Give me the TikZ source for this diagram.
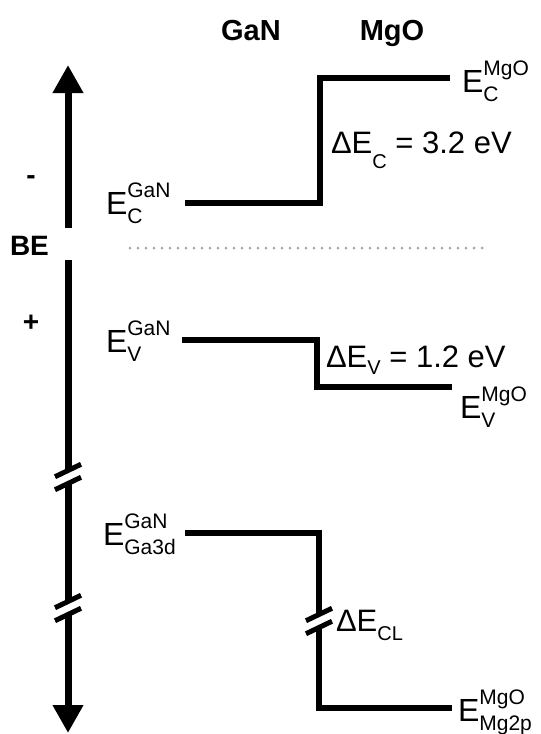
\documentclass[tikz,border=0pt]{standalone}
\usepackage{fontspec}
\setmainfont{Liberation Sans}
\usetikzlibrary{arrows.meta}
\newcommand{\lv}[2]{\fontsize{32}{32}\selectfont E\fontsize{21}{21}\selectfont\rlap{\raisebox{17pt}{#1}}\raisebox{-9pt}{#2}}
\newcommand{\dlt}[3]{\fontsize{31}{31}\selectfont ΔE\fontsize{20}{20}\selectfont\raisebox{-#2pt}{#1}\fontsize{31}{31}\selectfont#3}
\begin{document}
\begin{tikzpicture}[x=1pt,y=-1pt,
  lvl/.style={line width=6pt,line cap=butt,line join=miter},
  axisline/.style={line width=7pt},
  brk/.style={line width=5pt},
  lab/.style={anchor=base west,inner sep=0pt,outer sep=0pt},
  hdr/.style={anchor=base,inner sep=0pt,outer sep=0pt,font=\fontsize{29}{29}\selectfont\bfseries},
  sgn/.style={anchor=base,inner sep=0pt,outer sep=0pt,font=\fontsize{28}{28}\selectfont\bfseries},
  tip/.style={-{Triangle[length=28pt,width=29pt]}},
  brkpic/.pic={
    \fill[white] (-13,-0.26) -- (13,-12.74) -- (13,0.26) -- (-13,12.74) -- cycle;
    \draw[brk] (-13,-0.26) -- (13,-12.74);
    \draw[brk] (-13,12.74) -- (13,0.26);
  }]
\useasboundingbox (0,0) rectangle (541,734);
% headers
\node[hdr] (hgan) at (251,40) {GaN};
\node[hdr] (hmgo) at (392,40) {MgO};
% axis
\coordinate (atop) at (68,65);
\coordinate (aue) at (68,228);
\coordinate (als) at (68,260);
\coordinate (abot) at (68,733);
\draw[axisline,tip] (aue) -- (atop);
\draw[axisline,tip] (als) -- (abot);
\pic at (68,477) {brkpic};
\pic at (68,608) {brkpic};
\node[sgn,anchor=base west] (be) at (10,255) {BE};
\node[sgn] (minus) at (31,184) {-};
\node[sgn] (plus) at (31,331) {+};
% dotted midgap line
\coordinate (d1) at (130,248);
\coordinate (d2) at (483,248);
\draw[black!35,line width=3pt,dash pattern=on 0pt off 8pt,line cap=round] (d1) -- (d2);
% conduction band
\coordinate (c1) at (185,203);
\coordinate (c2) at (320,203);
\coordinate (c3) at (320,78);
\coordinate (c4) at (450,78);
\draw[lvl] (c1) -- (c2) -- (c3) -- (c4);
% valence band
\coordinate (v1) at (182,340);
\coordinate (v2) at (317,340);
\coordinate (v3) at (317,387);
\coordinate (v4) at (452,387);
\draw[lvl] (v1) -- (v2) -- (v3) -- (v4);
% core levels
\coordinate (k1) at (185,533);
\coordinate (k2) at (319,533);
\coordinate (k3) at (319,708);
\coordinate (k4) at (452,708);
\draw[lvl] (k1) -- (k2) -- (k3) -- (k4);
\pic at (319,621) {brkpic};
% labels
\node[lab] (ecgan) at (106,214) {\lv{GaN}{C}};
\node[lab] (evgan) at (106,352) {\lv{GaN}{V}};
\node[lab] (eggan) at (103,545) {\lv{GaN}{Ga3d}};
\node[lab] (ecmgo) at (462,92) {\lv{MgO}{C}};
\node[lab] (evmgo) at (460,418) {\lv{MgO}{V}};
\node[lab] (emmgo) at (458,721) {\lv{MgO}{Mg2p}};
\node[lab] (dec) at (331,153) {\dlt{C}{15}{ = 3.2 eV}};
\node[lab] (dev) at (326,367) {\dlt{V}{7}{ = 1.2 eV}};
\node[lab] (decl) at (336,631) {\dlt{CL}{9}{}};
\end{tikzpicture}
\end{document}
